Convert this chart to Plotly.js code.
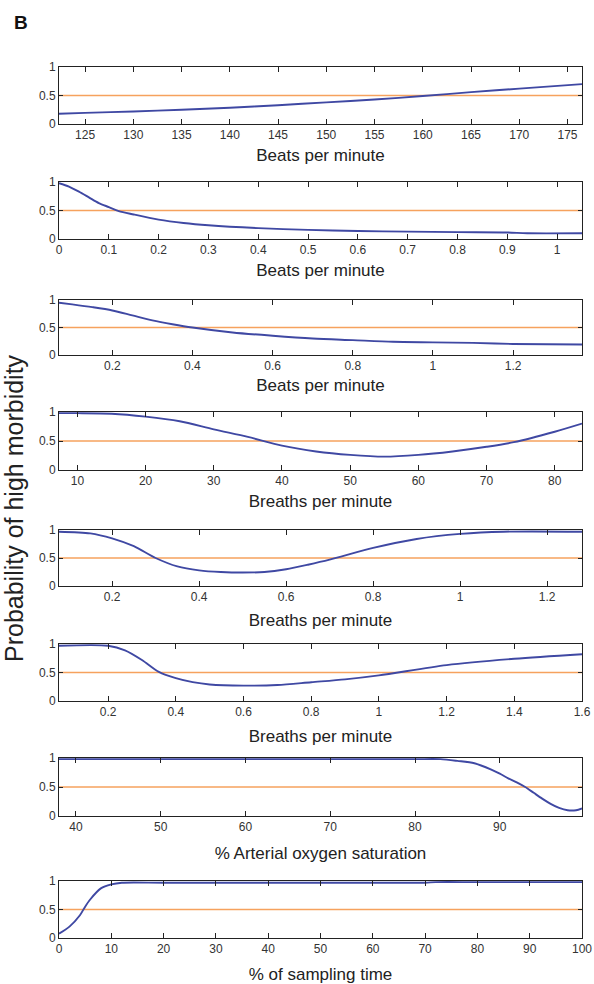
<!DOCTYPE html>
<html>
<head>
<meta charset="utf-8">
<script src="https://cdn.plot.ly/plotly-3.0.1.min.js"></script>
<style>html,body{margin:0;padding:0;background:#fff;}#chart{width:594px;height:984px;}</style>
</head>
<body>
<div id="chart"></div>
<script>
// ---------- DATA ----------
const panelTitles = ["Beats per minute","Beats per minute","Beats per minute","Breaths per minute","Breaths per minute","Breaths per minute","% Arterial oxygen saturation","% of sampling time"];
const threshold = 0.5;
const yTickVals = [0, 0.5, 1];
const yTickText = ["0", "0.5", "1"];

const hrMeanX = [122.3,125,130,135,140,145,150,155,160,165,170,176.5];
const hrMeanY = [0.18,0.195,0.22,0.25,0.285,0.33,0.38,0.43,0.49,0.56,0.62,0.70];

const hrSdX = [0,0.02,0.04,0.06,0.08,0.1,0.12,0.15,0.2,0.25,0.3,0.4,0.5,0.6,0.7,0.8,0.9,0.94,1.05];
const hrSdY = [0.98,0.92,0.83,0.73,0.63,0.56,0.49,0.43,0.34,0.28,0.24,0.19,0.16,0.14,0.13,0.12,0.115,0.10,0.10];

const hrVarX = [0.067,0.1,0.15,0.2,0.25,0.3,0.35,0.4,0.5,0.6,0.7,0.8,0.9,1.0,1.1,1.2,1.372];
const hrVarY = [0.95,0.92,0.87,0.81,0.72,0.63,0.56,0.50,0.41,0.35,0.30,0.27,0.24,0.23,0.22,0.20,0.19];

const rrMeanX = [7.3,10,15,20,25,30,35,40,45,50,55,60,65,70,74,80,84];
const rrMeanY = [0.98,0.98,0.97,0.92,0.84,0.70,0.57,0.42,0.32,0.26,0.23,0.26,0.32,0.40,0.48,0.66,0.80];

const rrSdX = [0.078,0.15,0.2,0.25,0.3,0.35,0.4,0.45,0.5,0.55,0.6,0.65,0.7,0.8,0.9,1.0,1.1,1.28];
const rrSdY = [0.97,0.94,0.85,0.71,0.50,0.35,0.28,0.25,0.24,0.25,0.30,0.38,0.47,0.68,0.84,0.93,0.97,0.97];

const rrVarX = [0.055,0.2,0.25,0.3,0.35,0.4,0.45,0.5,0.6,0.7,0.8,0.9,1.0,1.2,1.4,1.6];
const rrVarY = [0.97,0.97,0.89,0.72,0.51,0.40,0.33,0.29,0.27,0.28,0.33,0.38,0.45,0.63,0.74,0.82];

const spo2X = [38,50,60,70,80,83,85,87,89,90,91,92,93,94,95,96,97,98,99,99.7];
const spo2Y = [0.98,0.98,0.98,0.98,0.98,0.98,0.95,0.91,0.80,0.73,0.65,0.58,0.50,0.40,0.30,0.21,0.14,0.10,0.10,0.13];

const sampX = [0,2,4,5,6,8,10,12,20,40,60,70,72,80,100];
const sampY = [0.075,0.20,0.40,0.55,0.68,0.87,0.94,0.97,0.97,0.97,0.97,0.97,0.98,0.98,0.98];

// ---------- LAYOUT SETTINGS ----------
const W = 594, H = 984;
const boxLeft = 59, boxRight = 582;
const boxTopBottom = [[67,124],[182,239],[300,355],[412,470],[530,586],[644,701],[758,816],[881,938]];
const xRanges = [[122.3,176.5],[0,1.05],[0.067,1.372],[7.3,84],[0.078,1.28],[0.055,1.6],[38,99.7],[0,100]];
const xTick0 = [125,0,0.2,10,0.2,0.2,40,0];
const xDtick = [5,0.1,0.2,10,0.2,0.2,10,10];
const standoffs = [7,7,6,7,10,11,13,15];

const seriesX = [hrMeanX,hrSdX,hrVarX,rrMeanX,rrSdX,rrVarX,spo2X,sampX];
const seriesY = [hrMeanY,hrSdY,hrVarY,rrMeanY,rrSdY,rrVarY,spo2Y,sampY];

const font = "Liberation Sans, Arial, Helvetica, sans-serif";
const blue = "#3f48a3";
const orange = "#f6a25e";

const traces = [];
const layout = {
  width: W, height: H,
  margin: {l:0, r:0, t:0, b:0},
  paper_bgcolor: "#fff", plot_bgcolor: "#fff",
  showlegend: false,
  font: {family: font, color: "#333"},
  shapes: [],
  annotations: [
    {text: "<b>B</b>", x: 12/W, y: 1 - 23/H, xref: "paper", yref: "paper", xanchor: "left", yanchor: "middle",
     showarrow: false, font: {family: font, size: 19, color: "#111"}},
    {text: "Probability of high morbidity", x: 14/W, y: 1 - 508/H, xref: "paper", yref: "paper",
     xanchor: "center", yanchor: "middle", textangle: -90, showarrow: false,
     font: {family: font, size: 25, color: "#222"}}
  ]
};

for (let i = 0; i < 8; i++) {
  const sfx = i === 0 ? "" : String(i + 1);
  const xa = "x" + sfx, ya = "y" + sfx;
  traces.push({
    x: seriesX[i], y: seriesY[i], xaxis: xa, yaxis: ya,
    type: "scatter", mode: "lines", line: {color: blue, width: 1.9, shape: "spline", smoothing: 0.8},
    hoverinfo: "x+y"
  });
  layout.shapes.push({
    type: "line", xref: xa + " domain", yref: ya, x0: 0, x1: 1, y0: threshold, y1: threshold,
    line: {color: orange, width: 1.6}, layer: "below"
  });
  const [top, bottom] = boxTopBottom[i];
  layout["xaxis" + sfx] = {
    domain: [boxLeft / W, boxRight / W], anchor: ya,
    range: xRanges[i], tick0: xTick0[i], dtick: xDtick[i], tickmode: "linear",
    ticks: "inside", ticklen: 5, tickcolor: "#222", tickwidth: 1,
    showline: true, linecolor: "#222", linewidth: 1, mirror: "ticks",
    showgrid: false, zeroline: false,
    tickfont: {family: font, size: 12, color: "#333"},
    title: {text: panelTitles[i], font: {family: font, size: 17, color: "#222"}, standoff: standoffs[i]},
    automargin: false
  };
  layout["yaxis" + sfx] = {
    domain: [1 - bottom / H, 1 - top / H], anchor: xa,
    range: [0, 1], tickmode: "array", tickvals: yTickVals, ticktext: yTickText,
    ticks: "inside", ticklen: 4, tickcolor: "#222", tickwidth: 1,
    showline: true, linecolor: "#222", linewidth: 1, mirror: "ticks",
    showgrid: false, zeroline: false,
    tickfont: {family: font, size: 12, color: "#333"},
    automargin: false
  };
}

Plotly.newPlot("chart", traces, layout, {displayModeBar: false, staticPlot: true});
</script>
</body>
</html>
